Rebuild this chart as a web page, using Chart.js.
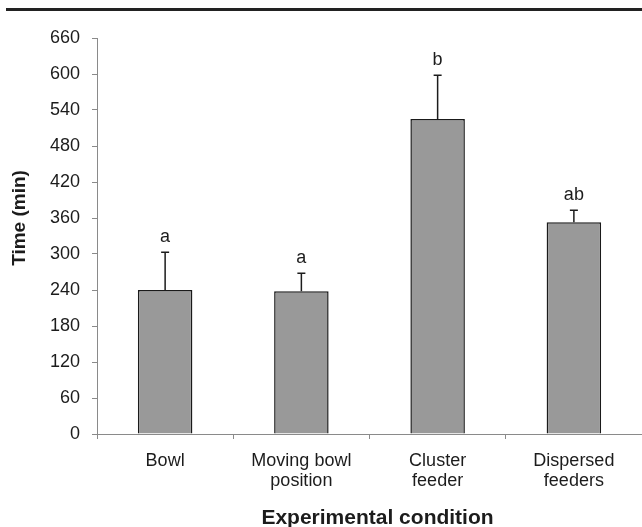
<!DOCTYPE html>
<html>
<head>
<meta charset="utf-8">
<script src="https://cdn.jsdelivr.net/npm/chart.js@4"></script>
<style>
  body { margin: 0; background: #fff; }
  #wrap { width: 642px; height: 527px; position: relative; }
</style>
</head>
<body>
<div id="wrap"><canvas id="time-chart"></canvas></div>
<script>
const conditions = [['Bowl'], ['Moving bowl', 'position'], ['Cluster', 'feeder'], ['Dispersed', 'feeders']];
const meanTime = [240, 238, 525, 353];
const errTime = [63, 30, 73, 20];
const groupLetters = ['a', 'a', 'b', 'ab'];
const yTicks = [0, 60, 120, 180, 240, 300, 360, 420, 480, 540, 600, 660];

const ink = '#1c1c1c';
const axisGrey = '#8a8a8a';
const fontName = '"Liberation Sans", Arial, sans-serif';

// error bars, letters, axis titles and the rule at the top
const extras = {
  id: 'extras',
  afterDatasetsDraw(chart) {
    const ctx = chart.ctx;
    const y = chart.scales.y;
    const bars = chart.getDatasetMeta(0).data;
    ctx.save();
    ctx.strokeStyle = ink;
    ctx.lineWidth = 1.5;
    bars.forEach((bar, i) => {
      const top = y.getPixelForValue(meanTime[i] + errTime[i]);
      ctx.beginPath();
      ctx.moveTo(bar.x, bar.y);
      ctx.lineTo(bar.x, top);
      ctx.moveTo(bar.x - 4, top);
      ctx.lineTo(bar.x + 4, top);
      ctx.stroke();
      ctx.fillStyle = ink;
      ctx.font = '18px ' + fontName;
      ctx.textAlign = 'center';
      ctx.textBaseline = 'alphabetic';
      ctx.fillText(groupLetters[i], bar.x, top - 10);
    });
    ctx.restore();
  },
  afterDraw(chart) {
    const ctx = chart.ctx;
    const area = chart.chartArea;
    ctx.save();
    ctx.fillStyle = '#222';
    ctx.fillRect(6, 8, chart.width - 6, 3);
    ctx.fillStyle = ink;
    ctx.textAlign = 'center';
    ctx.textBaseline = 'middle';
    ctx.font = 'bold 21px ' + fontName;
    ctx.fillText('Experimental condition', (area.left + area.right) / 2 + 8, 518);
    ctx.translate(20, 218);
    ctx.rotate(-Math.PI / 2);
    ctx.font = 'bold 19px ' + fontName;
    ctx.fillText('Time (min)', 0, 0);
    ctx.restore();
  }
};

new Chart(document.getElementById('time-chart'), {
  type: 'bar',
  data: {
    labels: conditions,
    datasets: [{
      data: meanTime,
      backgroundColor: '#999999',
      borderColor: '#1a1a1a',
      borderWidth: 1.5,
      categoryPercentage: 1,
      barPercentage: 0.4
    }]
  },
  options: {
    responsive: true,
    maintainAspectRatio: false,
    animation: false,
    layout: { padding: { top: 38, right: 0, left: 0, bottom: 0 } },
    scales: {
      x: {
        afterFit: s => { s.height = 93; },
        grid: {
          offset: true,
          drawOnChartArea: false,
          tickLength: 5,
          color: axisGrey
        },
        border: { color: axisGrey, width: 1 },
        ticks: {
          color: ink,
          padding: 12,
          maxRotation: 0,
          font: { family: fontName, size: 18, lineHeight: 1.12 }
        }
      },
      y: {
        min: 0,
        max: 660,
        afterFit: s => { s.width = 97; },
        afterBuildTicks: s => { s.ticks = yTicks.map(v => ({ value: v })); },
        grid: {
          drawOnChartArea: false,
          tickLength: 5,
          color: axisGrey
        },
        border: { color: axisGrey, width: 1 },
        ticks: {
          color: ink,
          padding: 12,
          font: { family: fontName, size: 18 }
        }
      }
    },
    plugins: {
      legend: { display: false },
      tooltip: { enabled: false }
    }
  },
  plugins: [extras]
});
</script>
</body>
</html>
